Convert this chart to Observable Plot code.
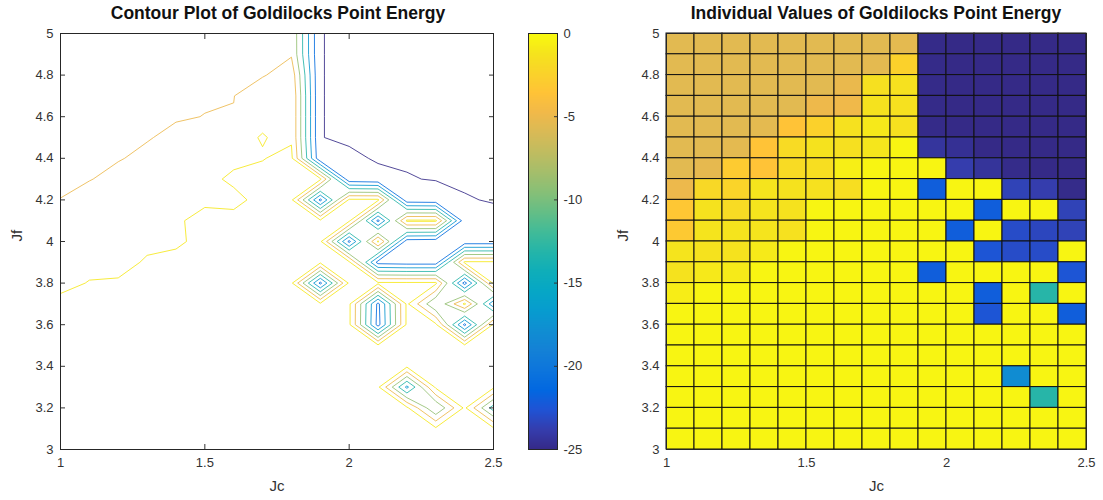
<!DOCTYPE html>
<html><head><meta charset="utf-8">
<script src="https://cdn.jsdelivr.net/npm/d3@7"></script>
<script src="https://cdn.jsdelivr.net/npm/@observablehq/plot@0.6"></script>
<style>
body{margin:0;background:#fff;}
#wrap{position:relative;width:1103px;height:500px;overflow:hidden;font-family:"Liberation Sans",Arial,sans-serif;}
#wrap svg{position:absolute;left:0;top:0;}
.title{position:absolute;top:3px;font-weight:bold;font-size:17.5px;color:#111;white-space:nowrap;transform:translateX(-50%);font-family:"Liberation Sans",Arial,sans-serif;}
</style></head><body><div id="wrap"></div>
<script>
// ---- data ----
const Jc = [1.0, 1.1, 1.2, 1.3, 1.4, 1.5, 1.6, 1.7, 1.8, 1.9, 2.0, 2.1, 2.2, 2.3, 2.4, 2.5];
const JfDesc = [5.0, 4.9, 4.8, 4.7, 4.6, 4.5, 4.4, 4.3, 4.2, 4.1, 4.0, 3.9, 3.8, 3.7, 3.6, 3.5, 3.4, 3.3, 3.2, 3.1, 3.0];
// energy[r][c] = value at (Jc[c], JfDesc[r])
const energy = [
  [-5.5,-5.5,-5.5,-5.5,-5.5,-5.5,-5.5,-5.5,-5.5,-24.95,-25.3,-25.3,-25.3,-25.3,-25.3,-25.3],
  [-5.5,-5.5,-5.5,-5.5,-5.5,-5.5,-5.5,-5.5,-5.4,-24.95,-25.3,-25.3,-25.3,-25.3,-25.3,-25.3],
  [-5.5,-5.5,-5.5,-5.5,-5.5,-5.5,-5.5,-5.4,-2.5,-24.95,-25.3,-25.3,-25.3,-25.3,-25.3,-25.3],
  [-5.5,-5.5,-5.5,-5.5,-5.5,-5.5,-5.1,-1.5,-1.4,-24.95,-25.3,-25.2,-25.3,-25.3,-25.3,-25.3],
  [-5.5,-5.5,-5.5,-5.5,-5.5,-4.9,-4.8,-1.3,-1.4,-24.95,-25.3,-25.2,-25.2,-25.3,-25.3,-25.3],
  [-5.5,-5.5,-5.5,-5.4,-3.6,-2.5,-1.4,-0.92,-1.4,-24.95,-25.3,-25.2,-25.2,-25.2,-25.3,-25.3],
  [-5.5,-5.5,-5.4,-3.6,-1.8,-1.3,-1.5,-1.1,-0.3,-24.3,-24.6,-25.2,-25.2,-25.2,-25.3,-25.3],
  [-5.5,-5.3,-3.0,-3.6,-1.8,-1.6,-0.6,-0.3,-0.3,-0.3,-23.8,-24.4,-24.9,-25.1,-25.2,-25.3],
  [-4.95,-2.0,-2.3,-1.2,-1.3,-1.4,-1.6,-0.3,-0.3,-22.0,-0.3,-0.3,-23.5,-23.8,-24.9,-25.1],
  [-3.3,-1.3,-1.8,-1.2,-1.3,-0.3,-0.3,-0.3,-0.3,-0.3,-0.3,-22.0,-0.3,-0.3,-23.5,-24.5],
  [-3.1,-1.2,-1.2,-1.2,-1.4,-0.3,-0.3,-0.3,-0.3,-0.3,-22.0,-0.3,-23.0,-23.3,-23.5,-23.5],
  [-1.2,-1.3,-1.3,-0.9,-0.3,-0.3,-0.3,-0.3,-0.3,-0.3,-0.3,-22.5,-23.0,-23.0,-0.3,-0.3],
  [-1.3,-0.95,-0.9,-0.3,-0.3,-0.3,-0.3,-0.3,-0.3,-22.0,-0.3,-0.3,-0.3,-0.3,-22.5,-0.3],
  [-0.7,-0.3,-0.3,-0.3,-0.3,-0.3,-0.3,-0.3,-0.3,-0.3,-0.3,-22.0,-0.3,-13.0,-0.3,-20.0],
  [-0.3,-0.3,-0.3,-0.3,-0.3,-0.3,-0.3,-0.3,-0.3,-0.3,-0.3,-22.5,-0.3,-0.3,-22.0,-0.3],
  [-0.3,-0.3,-0.3,-0.3,-0.3,-0.3,-0.3,-0.3,-0.3,-0.3,-0.3,-0.3,-0.3,-0.3,-0.3,-0.3],
  [-0.3,-0.3,-0.3,-0.3,-0.3,-0.3,-0.3,-0.3,-0.3,-0.3,-0.3,-0.3,-0.3,-0.3,-0.3,-0.3],
  [-0.3,-0.3,-0.3,-0.3,-0.3,-0.3,-0.3,-0.3,-0.3,-0.3,-0.3,-0.3,-18.0,-0.3,-0.3,-0.3],
  [-0.3,-0.3,-0.3,-0.3,-0.3,-0.3,-0.3,-0.3,-0.3,-0.3,-0.3,-0.3,-0.3,-13.0,-0.3,-15.0],
  [-0.3,-0.3,-0.3,-0.3,-0.3,-0.3,-0.3,-0.3,-0.3,-0.3,-0.3,-0.3,-0.3,-0.3,-0.3,-0.3],
  [-0.3,-0.3,-0.3,-0.3,-0.3,-0.3,-0.3,-0.3,-0.3,-0.3,-0.3,-0.3,-0.3,-0.3,-0.3,-0.3]
];
// contour levels: upper ones traced around high values, lower ones around low values (saddle handling like MATLAB)
const upperLevels = [-9, -5, -1];
const lowerLevels = [-25, -21, -17, -13];
const xTicks = [1, 1.5, 2, 2.5];
const yTicks = [3, 3.2, 3.4, 3.6, 3.8, 4, 4.2, 4.4, 4.6, 4.8, 5];
const colorTicks = [-25, -20, -15, -10, -5, 0];
const colorDomain = [-25, 0];
const titles = ["Contour Plot of Goldilocks Point Energy", "Individual Values of Goldilocks Point Energy"];
const parulaStops = ["#352a87","#353dad","#2053d4","#0268e1","#0d75dc","#1481d6","#108ed2","#079ccf","#06a7c6","#0faeb9","#25b5a9","#42bb98","#65be86","#87bf77","#a5be6b","#c0bc60","#d9ba56","#f1b94a","#ffc337","#fad32a","#f5e41d","#f9fb0e"];

// ---- derived tables ----
const parula = d3.piecewise(d3.interpolateRgb, parulaStops);
const colorOpts = {type: "linear", domain: colorDomain, interpolate: parula, clamp: true};
const stepX = Jc[1] - Jc[0], stepY = JfDesc[0] - JfDesc[1];
const flatAsc = energy.slice().reverse().flat(); // row 0 = lowest Jf
const cells = [];
JfDesc.forEach((yv, r) => {
  if (r === 0) return;
  Jc.forEach((xv, c) => {
    if (c === Jc.length - 1) return;
    cells.push({x1: xv, x2: Jc[c + 1], y1: yv, y2: JfDesc[r - 1], v: energy[r][c]});
  });
});

const W = 1103, H = 500;
const fmt = d => String(d);
const style = {fontFamily: '"Liberation Sans", Arial, sans-serif', fontSize: "13px", color: "#333", background: "transparent", overflow: "visible"};
const xDom = [Jc[0], Jc[Jc.length - 1]];
const yDom = [JfDesc[JfDesc.length - 1], JfDesc[0]];
const leftMargins = {width: W, height: H, marginLeft: 60, marginRight: W - 493, marginTop: 33, marginBottom: H - 449};
const gridOpts = {
  width: Jc.length, height: JfDesc.length,
  x1: Jc[0] - stepX / 2, x2: Jc[Jc.length - 1] + stepX / 2,
  y1: yDom[0] - stepY / 2, y2: yDom[1] + stepY / 2,
  fill: "none", strokeWidth: 1, strokeOpacity: 0.85, clip: true
};

function axes() {
  return [
    Plot.axisX(xTicks, {anchor: "bottom", tickSize: -5, tickPadding: 13, tickFormat: fmt, label: null}),
    Plot.axisX(xTicks, {anchor: "top", tickSize: -5, tickFormat: () => "", label: null}),
    Plot.axisY(yTicks, {anchor: "left", tickSize: -5, tickPadding: 12, tickFormat: fmt, label: null}),
    Plot.axisY(yTicks, {anchor: "right", tickSize: -5, tickFormat: () => "", label: null}),
    Plot.text(["Jc"], {frameAnchor: "bottom", dy: 41, fontSize: 15, fill: "#333"}),
    Plot.text(["Jf"], {frameAnchor: "left", dx: -43, rotate: -90, fontSize: 15, fill: "#333"})
  ];
}

// upper contour levels (regions of high values)
const leftUpper = Plot.plot({
  ...leftMargins, style,
  x: {domain: xDom}, y: {domain: yDom}, color: colorOpts,
  marks: [
    Plot.contour(flatAsc, {...gridOpts, stroke: Plot.identity, thresholds: upperLevels}),
    ...axes(),
    Plot.frame({stroke: "#262626"})
  ]
});
// lower contour levels traced on the negated field, colour scale undoes the negation
const leftLower = Plot.plot({
  ...leftMargins, style,
  x: {domain: xDom, axis: null}, y: {domain: yDom, axis: null},
  color: {...colorOpts, transform: v => -v},
  marks: [
    Plot.contour(flatAsc, {...gridOpts, value: d => -d, stroke: "value", thresholds: lowerLevels.map(v => -v)})
  ]
});

const bar = Plot.plot({
  width: W, height: H, marginLeft: 528, marginRight: W - 557, marginTop: 33, marginBottom: H - 449,
  style,
  x: {domain: [0, 1], axis: null}, y: {domain: colorDomain}, color: colorOpts,
  marks: [
    Plot.raster({x1: 0, x2: 1, y1: colorDomain[0], y2: colorDomain[1], fill: (x, y) => y}),
    Plot.axisY(colorTicks, {anchor: "right", tickSize: -4, tickPadding: 10, tickFormat: fmt, label: null}),
    Plot.frame({stroke: "#262626"})
  ]
});

const right = Plot.plot({
  width: W, height: H, marginLeft: 666, marginRight: W - 1086, marginTop: 33, marginBottom: H - 449,
  style,
  x: {domain: xDom}, y: {domain: yDom}, color: colorOpts,
  marks: [
    ...axes(),
    Plot.rect(cells, {x1: "x1", x2: "x2", y1: "y1", y2: "y2", fill: "v", stroke: "#111", strokeWidth: 1}),
    Plot.frame({stroke: "#262626"})
  ]
});

const wrap = document.getElementById("wrap");
wrap.append(leftLower, leftUpper, bar, right);
[[titles[0], 278], [titles[1], 876]].forEach(([t, cx]) => {
  const d = document.createElement("div");
  d.className = "title"; d.textContent = t; d.style.left = cx + "px";
  wrap.append(d);
});
</script></body></html>
